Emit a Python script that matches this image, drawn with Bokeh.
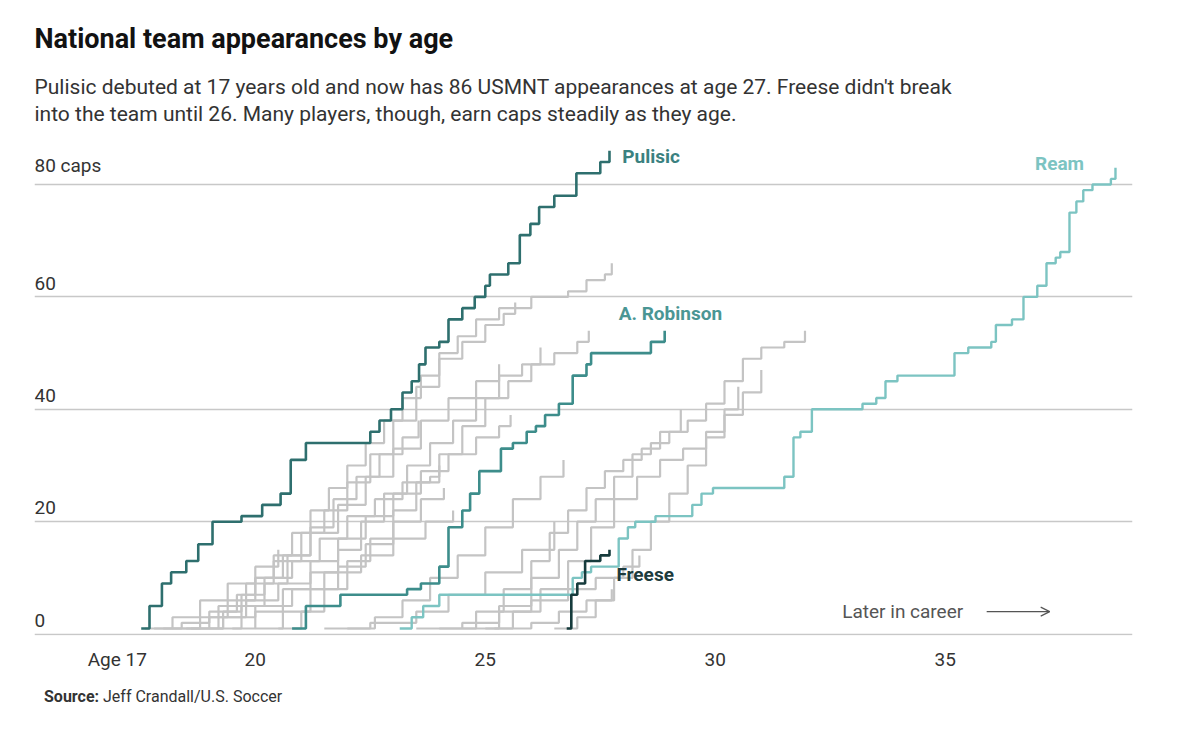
from bokeh.plotting import figure
from bokeh.models import Title, FixedTicker, Arrow, OpenHead, Range1d, Div
from bokeh.layouts import column
from bokeh.core.properties import value
from bokeh.embed import file_html
from bokeh.resources import INLINE

FONT = "Roboto"

# highlighted players: age at each new cap total, cap total
pulisic_age = [17.52, 17.7, 17.97, 18.17, 18.5, 18.76, 19.07, 19.7, 20.15, 20.55, 20.77, 21.1, 22.5, 22.7, 22.95,
               23.2, 23.4, 23.56, 23.7, 24.0, 24.2, 24.5, 24.77, 25.0, 25.1, 25.5, 25.75, 25.98, 26.17, 26.5,
               26.98, 27.5, 27.7]
pulisic_caps = [1, 5, 9, 11, 13, 16, 20, 21, 23, 25, 31, 34, 36, 38, 40, 43, 45, 48, 51, 52, 56, 58, 60, 62, 64,
                66, 71, 73, 76, 78, 82, 84, 86]

robinson_age = [20.8, 21.1, 21.85, 23.3, 23.6, 24.0, 24.2, 24.5, 24.67, 24.87, 25.34, 25.6, 25.9, 26.1, 26.3,
                26.6, 26.9, 27.2, 27.3, 28.6, 28.9]
robinson_caps = [1, 5, 7, 8, 9, 12, 19, 22, 25, 29, 33, 34, 36, 37, 39, 41, 46, 48, 50, 52, 54]

freese_age = [26.77, 26.87, 27.0, 27.17, 27.5, 27.7]
freese_caps = [1, 7, 9, 13, 14, 15]

ream_age = [23.14, 23.4, 23.65, 24.0, 26.9, 27.1, 27.3, 27.6, 27.9, 28.1, 28.26, 28.7, 29.5, 29.7, 29.95, 31.5,
            31.7, 31.85, 32.1, 33.2, 33.5, 33.7, 33.96, 35.2, 35.5, 36.0, 36.1, 36.45, 36.7, 37.0, 37.2, 37.4,
            37.5, 37.7, 37.85, 38.0, 38.2, 38.6, 38.7]
ream_caps = [1, 3, 5, 7, 10, 11, 12, 12, 17, 19, 20, 21, 23, 25, 26, 28, 35, 36, 40, 41, 42, 45, 46, 50, 51, 52,
             55, 56, 60, 62, 66, 67, 68, 75, 77, 79, 80, 81, 83]

# other players
grey_ages = [
    [19.0, 19.3, 19.7, 20.0, 20.4, 20.8, 21.2, 21.6, 22.0, 22.4, 22.8, 23.2, 23.6, 24.0, 24.4, 24.8, 25.3, 26.0, 26.8, 27.2, 27.6, 27.75],
    [18.6, 19.2, 19.8, 20.4, 21.0, 21.5, 22.0, 22.5, 23.0, 23.5, 24.0, 24.5, 25.0, 25.4, 25.65],
    [20.5, 21.0, 21.5, 22.0, 22.5, 23.0, 23.5, 24.0, 24.5, 25.0, 25.5, 26.0, 26.5, 27.0, 27.25],
    [19.5, 20.0, 20.6, 21.2, 21.8, 22.3, 22.8, 23.3, 23.8, 24.3, 24.8, 25.3, 25.8, 26.2],
    [18.0, 18.8, 19.4, 20.0, 20.6, 21.2, 21.8, 22.4, 23.0, 23.6, 24.2, 24.8, 25.3],
    [18.2, 19.0, 19.8, 20.5, 21.2, 21.8, 22.4, 23.0, 23.6, 24.2, 24.8, 25.3, 25.55],
    [17.8, 18.4, 19.0, 19.6, 20.2, 20.8, 21.4, 22.0, 22.6, 23.2, 23.8, 24.0],
    [19.2, 19.7, 20.2, 20.7, 21.2, 21.7, 22.2, 22.7, 23.2, 23.55],
    [18.5, 19.3, 20.0, 20.8, 21.5, 22.3, 23.0, 23.7, 24.3],
    [24.5, 25.3, 26.0, 26.6, 27.0, 27.4, 27.8, 28.2, 28.6, 29.0, 29.4, 29.8, 30.2, 30.6, 31.0, 31.5, 31.95],
    [25.0, 25.6, 26.2, 26.8, 27.3, 27.8, 28.3, 28.8, 29.3, 29.8, 30.2, 30.6, 31.0],
    [24.0, 24.8, 25.4, 26.0, 26.4, 26.8, 27.2, 27.6, 28.0, 28.4, 28.8, 29.25],
    [23.5, 24.5, 25.3, 26.0, 26.8, 27.4, 28.0, 28.35],
    [25.2, 26.0, 26.6, 27.2, 27.75],
    [26.5, 27.0, 27.4, 27.8, 28.2, 28.6, 29.0, 29.4, 29.8, 30.2, 30.5],
    [20.0, 20.6, 21.2, 21.8, 22.4, 23.0, 23.6, 24.1],
    [22.0, 22.6, 23.2, 23.8, 24.4, 25.0, 25.6, 26.2, 26.7],
    [21.5, 22.5, 23.5, 24.2, 25.0, 25.8, 26.5],
    [17.6, 18.2, 18.8, 19.4, 20.0, 20.5],
]
grey_caps = [
    [1, 4, 7, 10, 14, 18, 22, 26, 30, 34, 38, 42, 46, 50, 53, 56, 58, 60, 61, 63, 64, 66],
    [1, 5, 9, 13, 18, 22, 27, 32, 38, 44, 49, 52, 55, 57, 59],
    [1, 4, 8, 13, 17, 22, 27, 32, 37, 42, 45, 48, 50, 52, 54],
    [1, 4, 8, 11, 15, 20, 25, 30, 34, 38, 42, 46, 48, 51],
    [1, 3, 6, 10, 14, 18, 23, 28, 33, 38, 42, 45, 48],
    [1, 3, 6, 9, 13, 17, 21, 25, 29, 32, 35, 37, 39],
    [1, 2, 4, 7, 10, 13, 17, 21, 24, 27, 28, 30],
    [1, 5, 9, 14, 19, 24, 28, 32, 35, 38],
    [1, 3, 5, 8, 11, 14, 17, 20, 22],
    [1, 5, 10, 15, 20, 24, 28, 32, 34, 36, 38, 41, 45, 49, 51, 52, 54],
    [1, 4, 8, 13, 19, 24, 28, 31, 33, 36, 39, 43, 47],
    [1, 4, 8, 13, 18, 22, 26, 29, 31, 33, 36, 40],
    [1, 2, 4, 6, 8, 10, 12, 14],
    [1, 2, 4, 6, 8],
    [1, 3, 6, 10, 15, 20, 25, 30, 35, 40, 44],
    [1, 4, 8, 12, 16, 20, 24, 26],
    [1, 3, 6, 10, 14, 19, 24, 28, 31],
    [1, 2, 4, 7, 11, 15, 20],
    [1, 3, 6, 9, 12, 15],
]

y_ticks = [0, 20, 40, 60, 80]
y_tick_labels = ["0", "20", "40", "60", "80 caps"]
x_ticks = [17, 20, 25, 30, 35]
x_tick_labels = ["Age 17", "20", "25", "30", "35"]

p = figure(width=1184, height=680, output_backend="svg", toolbar_location=None,
           x_range=Range1d(15.2, 39.07), y_range=Range1d(-0.25, 87.3),
           min_border_left=34, min_border_right=52, min_border_bottom=45,
           outline_line_color=None, background_fill_color="white")
p.yaxis.visible = False
p.xgrid.visible = False
p.ygrid.ticker = FixedTicker(ticks=y_ticks)
p.ygrid.grid_line_color = "#c8c8c8"
p.ygrid.grid_line_width = 1.5

ax = p.xaxis[0]
ax.ticker = FixedTicker(ticks=x_ticks)
ax.major_label_overrides = dict(zip(x_ticks, x_tick_labels))
ax.axis_line_color = None
ax.major_tick_line_color = None
ax.minor_tick_line_color = None
ax.major_label_text_font = FONT
ax.major_label_text_font_size = "19px"
ax.major_label_text_color = "#333333"
ax.major_label_standoff = 6

for a, c in zip(grey_ages, grey_caps):
    p.step(a, c, mode="after", line_color="#c4c4c4", line_width=2.2)

p.step(ream_age, ream_caps, mode="after", line_color="#7cc4c2", line_width=2.4)
p.step(robinson_age, robinson_caps, mode="after", line_color="#3d8d8b", line_width=2.6)
p.step(pulisic_age, pulisic_caps, mode="after", line_color="#2e6f6e", line_width=2.6)
p.step(freese_age, freese_caps, mode="after", line_color="#163b3c", line_width=2.6)

# y tick labels sitting above the gridlines
p.text(x=[15.2] * len(y_ticks), y=[t + 1.3 for t in y_ticks], text=y_tick_labels,
       text_font=value(FONT), text_font_size="19px", text_color="#333333",
       text_baseline="bottom", text_align="left")

names = ["Pulisic", "A. Robinson", "Ream", "Freese"]
name_x = [27.98, 27.9, 36.95, 27.85]
name_y = [85.0, 57.0, 83.7, 10.6]
name_colors = ["#3a8180", "#4a9694", "#7cc4c2", "#1d3b3d"]
p.text(x=name_x, y=name_y, text=names, text_color=name_colors, text_font=value(FONT),
       text_font_size="19px", text_font_style="bold", text_baseline="middle", text_align="left")

p.text(x=[32.76], y=[4.0], text=["Later in career"], text_font=value(FONT), text_font_size="19px",
       text_color="#555555", text_baseline="middle", text_align="left")
p.add_layout(Arrow(x_start=35.9, y_start=4.0, x_end=37.27, y_end=4.0, line_color="#555555", line_width=1.2,
                   end=OpenHead(size=9, line_color="#555555", line_width=1.2)))

p.add_layout(Title(text="Pulisic debuted at 17 years old and now has 86 USMNT appearances at age 27. Freese didn't break\n"
                        "into the team until 26. Many players, though, earn caps steadily as they age.",
                   text_font=FONT, text_font_size="21px", text_font_style="normal", text_color="#333333",
                   text_line_height=1.15, standoff=34), "above")
p.add_layout(Title(text="National team appearances by age", text_font=FONT, text_font_size="27px",
                   text_font_style="bold", text_color="#121212", standoff=2), "above")
p.add_layout(Title(text=" ", text_font_size="15px", standoff=0), "above")

source = Div(text="<b>Source:</b> Jeff Crandall/U.S. Soccer", width=1100, height=30,
             margin=(6, 0, 0, 44),
             styles={"font-family": FONT, "font-size": "16px", "color": "#333333"})

layout = column(p, source, spacing=0)
open("out.html", "w").write(file_html(layout, INLINE))
